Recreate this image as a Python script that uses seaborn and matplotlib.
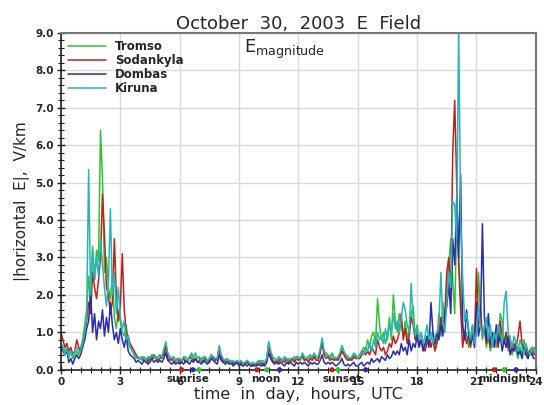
import matplotlib
matplotlib.use("Agg")
import matplotlib.pyplot as plt
import numpy as np
import pandas as pd
import seaborn as sns
from matplotlib.ticker import MultipleLocator

# time axis: 0.1 h samples over the day
hours = np.round(np.linspace(0, 24, 241), 1)

tromso = [
    0.7, 0.6, 0.5, 0.6, 0.4, 0.5, 0.3, 0.4, 0.5, 0.4,
    0.6, 0.8, 1.2, 1.6, 2.5, 1.8, 3.3, 2.4, 3.2, 2.9,
    6.4, 5.1, 2.6, 3.0, 2.2, 1.9, 2.5, 1.4, 1.1, 1.6,
    1.3, 1.0, 0.9, 1.2, 0.7, 0.6, 0.5, 0.4, 0.3, 0.35,
    0.3, 0.25, 0.35, 0.2, 0.3, 0.25, 0.4, 0.3, 0.35, 0.3,
    0.4, 0.3, 0.5, 0.7, 0.4, 0.3, 0.25, 0.3, 0.2, 0.3,
    0.25, 0.2, 0.3, 0.35, 0.2, 0.3, 0.4, 0.3, 0.45, 0.3,
    0.3, 0.2, 0.35, 0.25, 0.2, 0.3, 0.4, 0.3, 0.3, 0.25,
    0.55, 0.35, 0.25, 0.2, 0.3, 0.2, 0.25, 0.15, 0.2, 0.25,
    0.2, 0.15, 0.2, 0.15, 0.25, 0.2, 0.15, 0.2, 0.1, 0.2,
    0.2, 0.25, 0.15, 0.2, 0.3, 0.7, 0.45, 0.3, 0.3, 0.2,
    0.3, 0.25, 0.2, 0.3, 0.25, 0.3, 0.2, 0.25, 0.3, 0.35,
    0.3, 0.25, 0.4, 0.3, 0.25, 0.3, 0.35, 0.3, 0.4, 0.3,
    0.3, 0.5, 0.8, 0.45, 0.4, 0.35, 0.3, 0.4, 0.3, 0.25,
    0.3, 0.4, 0.6, 0.45, 0.35, 0.3, 0.25, 0.3, 0.4, 0.35,
    0.3, 0.4, 0.5, 0.6, 0.5, 0.8, 0.6, 0.9, 1.0, 0.7,
    1.9, 1.2, 0.8, 1.0, 0.7, 0.9, 1.4, 0.8, 2.0, 1.3,
    1.0, 1.5, 1.2, 0.9, 1.3, 0.8, 1.1, 1.5, 1.7, 0.9,
    1.2, 0.8, 1.0, 0.7, 0.6, 0.9, 0.7, 0.8, 1.0, 0.6,
    0.8, 1.5, 0.9, 1.8, 1.2, 2.2, 2.8, 3.5, 2.4, 1.5,
    4.0, 3.0, 2.0, 1.2, 0.8, 1.0, 0.6, 0.8, 1.2, 0.7,
    1.0, 2.6, 1.5, 0.8, 1.2, 0.6, 0.9, 0.5, 0.8, 1.0,
    0.6, 0.8, 1.5, 1.3, 0.7, 1.0, 0.5, 0.9, 0.4, 0.6,
    0.5, 0.3, 0.6, 0.4, 0.8, 0.5, 0.3, 0.5, 0.4, 0.6,
    0.5,
]

sodankyla = [
    1.0, 0.8, 0.6, 0.7, 0.5, 0.6, 0.4, 0.5, 0.8, 0.6,
    0.5, 0.7, 1.0, 1.3, 1.8, 1.5, 2.6, 2.2, 1.9, 2.4,
    3.0, 4.7, 3.6, 2.2, 2.0, 1.5, 1.8, 3.5, 2.0, 1.3,
    1.7, 3.1, 1.6, 1.0, 0.9, 0.7, 0.6, 0.5, 0.4, 0.3,
    0.3, 0.35, 0.25, 0.3, 0.2, 0.35, 0.3, 0.4, 0.3, 0.25,
    0.3, 0.35, 0.4, 0.6, 0.3, 0.25, 0.3, 0.2, 0.25, 0.3,
    0.2, 0.25, 0.3, 0.2, 0.25, 0.35, 0.3, 0.25, 0.3, 0.2,
    0.25, 0.3, 0.2, 0.3, 0.25, 0.2, 0.3, 0.35, 0.25, 0.3,
    0.6, 0.3, 0.2, 0.25, 0.2, 0.25, 0.15, 0.2, 0.15, 0.2,
    0.15, 0.2, 0.1, 0.15, 0.2, 0.15, 0.1, 0.15, 0.1, 0.15,
    0.15, 0.2, 0.1, 0.2, 0.25, 0.65, 0.4, 0.25, 0.2, 0.25,
    0.2, 0.3, 0.25, 0.2, 0.3, 0.2, 0.25, 0.3, 0.2, 0.3,
    0.25, 0.3, 0.35, 0.25, 0.3, 0.2, 0.3, 0.25, 0.35, 0.25,
    0.25, 0.45, 0.7, 0.4, 0.3, 0.35, 0.25, 0.3, 0.25, 0.3,
    0.25, 0.35, 0.5, 0.4, 0.3, 0.25, 0.3, 0.25, 0.35, 0.3,
    0.3, 0.3, 0.4, 0.5, 0.4, 0.5, 0.4, 0.6, 0.5, 0.4,
    0.8, 0.6, 0.5, 0.6, 0.4, 0.5, 0.7, 0.6, 0.9, 0.7,
    0.8, 1.0, 1.5, 0.8, 1.1, 0.7, 0.9, 1.4, 1.2, 0.8,
    1.0, 0.7, 0.8, 0.6, 0.5, 0.7, 0.9, 0.6, 0.8, 0.5,
    0.7, 1.0, 1.4, 1.0, 1.5, 2.6, 3.0, 2.0, 5.8, 7.2,
    5.0, 2.8, 1.6, 0.6, 1.0, 0.7, 0.9, 0.6, 1.0, 0.8,
    2.7, 1.2, 1.7, 0.9, 1.1, 0.7, 0.9, 0.6, 0.8, 0.7,
    0.9, 0.6, 1.3, 0.8, 0.7, 1.0, 0.6, 0.8, 0.5, 0.7,
    0.6, 0.9, 1.3, 0.7, 0.5, 0.6, 0.4, 0.5, 0.6, 0.4,
    0.4,
]

dombas = [
    0.6, 0.5, 0.4, 0.5, 0.2, 0.3, 0.15, 0.3, 0.4, 0.3,
    0.4, 0.6, 0.8, 1.1, 1.3, 2.1, 1.0, 1.5, 0.8, 1.3,
    1.1, 1.6, 0.9, 1.4, 1.0, 1.8, 1.2, 0.8, 1.0, 0.7,
    1.1, 0.8, 0.6, 0.9, 0.5, 0.4, 0.35, 0.3, 0.2, 0.25,
    0.2, 0.15, 0.25, 0.2, 0.15, 0.2, 0.3, 0.2, 0.25, 0.2,
    0.25, 0.2, 0.3, 0.45, 0.25, 0.2, 0.15, 0.2, 0.15, 0.2,
    0.15, 0.2, 0.15, 0.25, 0.2, 0.15, 0.25, 0.2, 0.3, 0.2,
    0.2, 0.15, 0.25, 0.2, 0.15, 0.2, 0.3, 0.25, 0.2, 0.15,
    0.4, 0.25, 0.2, 0.15, 0.2, 0.15, 0.2, 0.1, 0.15, 0.2,
    0.1, 0.15, 0.1, 0.15, 0.1, 0.15, 0.1, 0.1, 0.15, 0.1,
    0.15, 0.1, 0.15, 0.1, 0.2, 0.45, 0.3, 0.2, 0.15, 0.2,
    0.15, 0.2, 0.15, 0.1, 0.2, 0.15, 0.2, 0.15, 0.1, 0.2,
    0.15, 0.2, 0.15, 0.2, 0.15, 0.1, 0.2, 0.15, 0.2, 0.15,
    0.15, 0.25, 0.4, 0.2, 0.15, 0.2, 0.15, 0.2, 0.15, 0.1,
    0.15, 0.2, 0.3, 0.15, 0.1, 0.15, 0.1, 0.15, 0.2, 0.1,
    0.1, 0.15, 0.2, 0.1, 0.15, 0.2, 0.15, 0.3, 0.2, 0.25,
    0.3, 0.2, 0.35, 0.3, 0.25, 0.4, 0.3, 0.35, 0.5, 0.4,
    0.5, 0.4, 0.7, 0.5, 0.6, 0.4, 0.8, 0.5, 0.7, 0.6,
    0.9, 0.6, 0.8, 0.5, 0.7, 0.9, 0.6, 1.8, 1.0, 0.7,
    1.0, 0.8, 1.2, 0.9, 1.5, 1.7, 2.3, 1.5, 3.5, 2.8,
    4.6, 3.0, 5.2, 1.2, 0.8, 1.6, 1.0, 0.7, 0.9, 0.6,
    1.8, 0.9, 1.2, 3.9, 1.4, 0.8, 1.5, 0.7, 1.0, 0.6,
    1.2, 0.7, 0.9, 0.5, 0.8, 0.6, 0.9, 0.4, 0.6, 0.5,
    0.7, 0.4, 0.5, 0.3, 0.6, 0.4, 0.3, 0.5, 0.4, 0.3,
    0.3,
]

kiruna = [
    0.7, 0.6, 0.4, 0.6, 0.3, 0.5, 0.35, 0.5, 0.6, 0.5,
    0.5, 0.7, 1.0, 1.4, 5.35, 2.0, 3.2, 2.4, 3.0, 2.5,
    3.5, 2.8, 2.2, 1.7, 2.3, 4.3, 2.0, 2.6, 1.5, 2.2,
    1.4, 1.1, 1.3, 0.8, 0.9, 0.6, 0.5, 0.4, 0.35, 0.3,
    0.3, 0.35, 0.3, 0.25, 0.35, 0.3, 0.4, 0.35, 0.3, 0.35,
    0.4, 0.35, 0.55, 0.75, 0.45, 0.35, 0.3, 0.35, 0.25, 0.3,
    0.3, 0.25, 0.35, 0.3, 0.25, 0.35, 0.45, 0.35, 0.4, 0.3,
    0.35, 0.25, 0.3, 0.35, 0.25, 0.3, 0.4, 0.35, 0.3, 0.3,
    0.65, 0.4, 0.3, 0.25, 0.3, 0.25, 0.2, 0.25, 0.2, 0.25,
    0.2, 0.25, 0.15, 0.2, 0.25, 0.2, 0.15, 0.2, 0.15, 0.2,
    0.25, 0.2, 0.25, 0.2, 0.3, 0.75, 0.5, 0.35, 0.3, 0.25,
    0.35, 0.3, 0.25, 0.35, 0.3, 0.25, 0.3, 0.3, 0.35, 0.3,
    0.35, 0.3, 0.45, 0.35, 0.3, 0.35, 0.4, 0.35, 0.45, 0.35,
    0.35, 0.55, 0.85, 0.5, 0.45, 0.4, 0.35, 0.45, 0.35, 0.3,
    0.35, 0.45, 0.65, 0.5, 0.4, 0.35, 0.3, 0.35, 0.45, 0.4,
    0.3, 0.4, 0.5, 0.4, 0.6, 0.5, 0.7, 0.5, 0.8, 0.6,
    1.0, 0.8, 0.9, 0.7, 1.1, 0.8, 1.2, 1.0, 1.5, 1.1,
    1.3, 1.0, 1.4, 1.8, 1.6, 1.2, 1.0, 2.3, 1.3, 0.9,
    1.1, 0.8, 1.0, 0.7, 0.9, 1.2, 0.8, 1.0, 0.7, 0.9,
    1.0, 1.2, 2.6, 1.3, 1.0, 1.8, 2.6, 2.2, 4.5, 4.4,
    3.5, 9.2, 4.0, 2.5, 1.3, 1.5, 1.1, 0.8, 1.2, 0.7,
    1.0, 1.7, 1.2, 0.9, 1.1, 1.4, 0.8, 1.2, 0.6, 1.0,
    0.8, 1.2, 1.0, 0.7, 1.8, 2.1, 1.0, 0.8, 0.6, 0.9,
    0.7, 0.5, 0.8, 0.6, 0.4, 0.7, 0.5, 0.4, 0.6, 0.5,
    0.4,
]

stations = ["Tromso", "Sodankyla", "Dombas", "Kiruna"]
colors = {"Tromso": "#2fc42f", "Sodankyla": "#c0201c",
          "Dombas": "#2b2bb0", "Kiruna": "#2ab5b5"}

# solar event markers on the time axis (hours UTC)
event_names = ["sunrise", "noon", "sunset", "midnight"]
event_label_x = [6.4, 10.35, 14.2, 22.4]
event_red = [6.1, 9.9, 13.7, 21.9]
event_green = [6.97, 10.4, 14.0, 22.4]
event_blue = [6.67, 11.05, 15.4, 23.0]

df = pd.concat([
    pd.DataFrame({"hour": hours, "E": vals, "station": name})
    for name, vals in zip(stations, [tromso, sodankyla, dombas, kiruna])
])

sns.set_theme(style="white")
plt.rcParams.update({
    "font.family": ["DejaVu Sans"],
    "mathtext.default": "regular",
})

fig, ax = plt.subplots(figsize=(5.44, 4.05), dpi=100)
fig.subplots_adjust(left=0.112, right=0.985, top=0.919, bottom=0.087)

ax.grid(True, which="major", color="#d9d9d9", linewidth=1.0)
ax.set_axisbelow(True)

sns.lineplot(data=df, x="hour", y="E", hue="station", hue_order=stations,
             palette=colors, estimator=None, linewidth=1.1, ax=ax)

for xs, c in [(event_red, colors["Sodankyla"]), (event_green, colors["Tromso"]),
              (event_blue, colors["Dombas"])]:
    ax.scatter(xs, [0] * len(xs), s=14, color=c, zorder=6, clip_on=False,
               edgecolors="none")

for name, x in zip(event_names, event_label_x):
    ax.text(x, -0.1, name, ha="center", va="top", fontsize=7.5,
            fontweight="bold", color="#222222", zorder=7)

ax.set_xlim(0, 24)
ax.set_ylim(0, 9)
ax.xaxis.set_major_locator(MultipleLocator(3))
ax.xaxis.set_minor_locator(MultipleLocator(0.5))
ax.yaxis.set_major_locator(MultipleLocator(1))
ax.yaxis.set_minor_locator(MultipleLocator(0.2))
ax.set_yticklabels([f"{v:.1f}" for v in ax.get_yticks()])
ax.tick_params(which="major", direction="inout", length=6, width=1,
               labelsize=7.5, pad=2, color="#222222")
ax.tick_params(which="minor", direction="inout", length=4, width=0.8,
               color="#222222")
ax.tick_params(axis="both", which="both", left=True, bottom=True)
for lab in ax.get_xticklabels() + ax.get_yticklabels():
    lab.set_fontweight("bold")

for side in ["left", "bottom"]:
    ax.spines[side].set_color("#222222")
    ax.spines[side].set_linewidth(1.2)
for side in ["top", "right"]:
    ax.spines[side].set_color("#777777")
    ax.spines[side].set_linewidth(1.5)

ax.set_xlabel("time  in  day,  hours,  UTC", fontsize=11.5, labelpad=0)
ax.set_ylabel("|horizontal  E|,  V/km", fontsize=11, labelpad=4)
ax.set_title("October  30,  2003  E  Field", fontsize=13, pad=3)
ax.text(0.385, 0.985, r"$E_{magnitude}$", transform=ax.transAxes,
        fontsize=13, ha="left", va="top")

ax.legend(loc="upper left", frameon=False, handlelength=3.2,
          labelspacing=0.1, borderaxespad=0.2, handletextpad=0.8,
          prop={"weight": "bold", "size": 8.5})

fig.savefig("out.png", dpi=100)
